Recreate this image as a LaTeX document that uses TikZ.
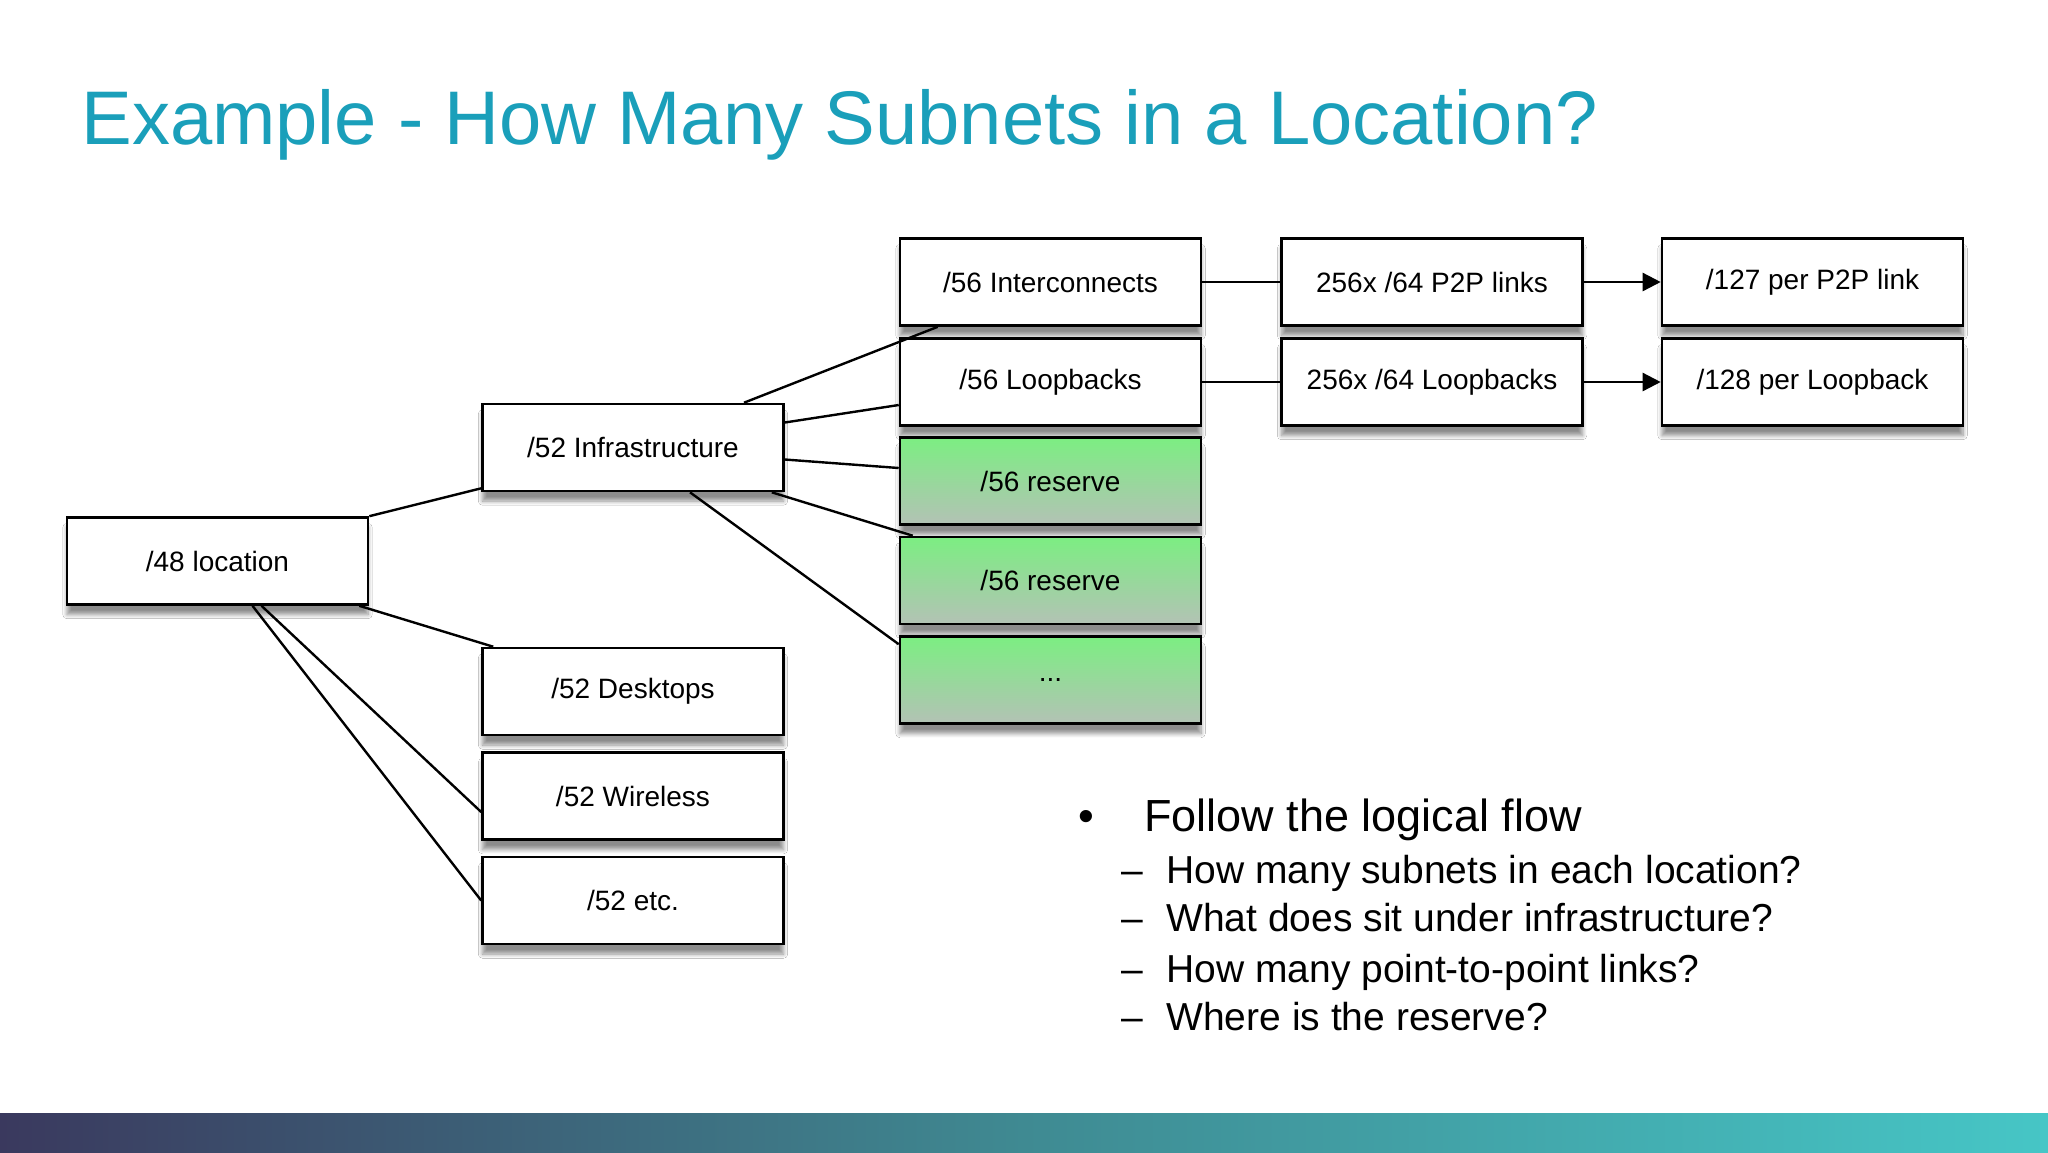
\documentclass[tikz,border=0pt]{standalone}
\usepackage{fontspec}
\setmainfont{Liberation Sans}
\usetikzlibrary{calc,shadows.blur,arrows.meta}
\definecolor{titleblue}{HTML}{1A9FBA}
\definecolor{gtop}{HTML}{7CEE82}
\definecolor{gbot}{HTML}{B3C2B5}
\definecolor{barL}{HTML}{3A395E}
\definecolor{barM}{HTML}{3F8A92}
\definecolor{barR}{HTML}{46C6C6}
\tikzset{
  box/.style={draw=black, line width=1.3pt, fill=white, minimum width=150.5pt, minimum height=43.5pt, inner sep=0pt,
    font=\fontsize{14}{16}\selectfont,
    blur shadow={shadow xshift=0pt, shadow yshift=-5pt, shadow blur steps=8, shadow opacity=45}},
  gbox/.style={box, top color=gtop, bottom color=gbot},
  conn/.style={line width=1.2pt},
  arr/.style={line width=1.2pt, -{Triangle[length=9pt,width=9pt]}},
}
\begin{document}
\begin{tikzpicture}[x=0.5pt,y=-0.5pt]
\useasboundingbox (0,0) rectangle (2048,1152);
\fill[white] (0,0) rectangle (2048,1152);
\shade[left color=barL, right color=barR, middle color=barM] (0,1113) rectangle (2048,1152);
\node[anchor=base west, text=titleblue, font=\fontsize{38}{44}\selectfont, inner sep=0pt] (title) at (81,144) {Example - How Many Subnets in a Location?};

\node[box] (loc) at (217.5,561) {/48 location};
\node[box] (infra) at (633,447.5) {/52 Infrastructure};
\node[box] (desk) at (633,691.5) {/52 Desktops};
\node[box] (wire) at (633,796) {/52 Wireless};
\node[box] (etc) at (633,900.5) {/52 etc.};
\node[box] (inter) at (1050.5,282) {/56 Interconnects};
\node[box] (loop) at (1050.5,382) {/56 Loopbacks};
\node[gbox] (res1) at (1050.5,481) {/56 reserve};
\node[gbox] (res2) at (1050.5,580.5) {/56 reserve};
\node[gbox] (dots) at (1050.5,680) {...};
\node[box] (p2p) at (1432,282) {256x /64 P2P links};
\node[box] (lb64) at (1432,382) {256x /64 Loopbacks};
\node[box] (p127) at (1812.5,282) {/127 per P2P link};
\node[box] (p128) at (1812.5,382) {/128 per Loopback};

\draw[conn] (loc.north east) -- ($(infra.south west)+(0,-4)$);
\draw[conn] ($(loc.south east)+(-10,0)$) -- ($(desk.north west)+(12,0)$);
\draw[conn] ($(loc.south)+(44,0)$) -- ($(wire.west)+(0,16)$);
\draw[conn] ($(loc.south)+(35,0)$) -- (etc.west);
\draw[conn] ($(infra.north)+(111,0)$) -- ($(inter.south west)+(39,0)$);
\draw[conn] ($(infra.east)+(0,-25)$) -- ($(loop.west)+(0,23)$);
\draw[conn] ($(infra.east)+(0,12)$) -- ($(res1.west)+(0,-13)$);
\draw[conn] ($(infra.south east)+(-13,0)$) -- ($(res2.north west)+(14,0)$);
\draw[conn] ($(infra.south)+(57,0)$) -- ($(dots.north west)+(0,9)$);
\draw[conn] (inter.east) -- (p2p.west);
\draw[conn] (loop.east) -- (lb64.west);
\draw[arr] (p2p.east) -- (p127.west);
\draw[arr] (lb64.east) -- (p128.west);

\node[anchor=base west, inner sep=0pt, font=\fontsize{22.5}{26}\selectfont] (b0) at (1078,831) {•};
\node[anchor=base west, inner sep=0pt, font=\fontsize{22.5}{26}\selectfont] (t0) at (1144,831) {Follow the logical flow};
\foreach \y/\t [count=\i] in {883/How many subnets in each location?, 931/What does sit under infrastructure?, 982/How many point-to-point links?, 1030/Where is the reserve?}{
  \node[anchor=base west, inner sep=0pt, font=\fontsize{19.5}{23}\selectfont] (d\i) at (1121,\y) {–};
  \node[anchor=base west, inner sep=0pt, font=\fontsize{19.5}{23}\selectfont] (s\i) at (1166,\y) {\t};
}
\end{tikzpicture}
\end{document}
